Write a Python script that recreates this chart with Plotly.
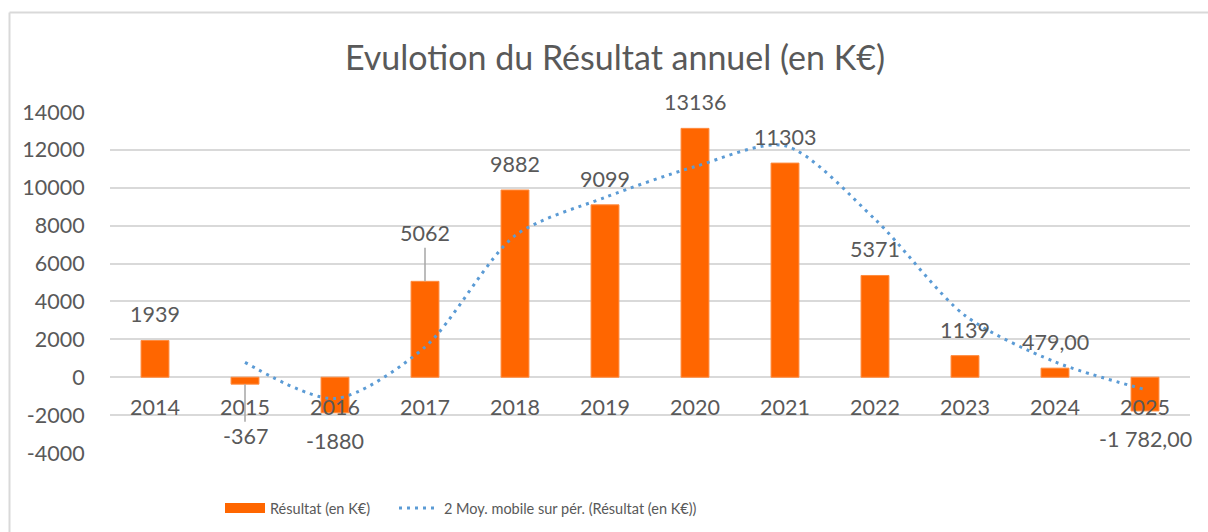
import plotly.graph_objects as go

years = ["2014", "2015", "2016", "2017", "2018", "2019", "2020", "2021", "2022", "2023", "2024", "2025"]
resultat = [1939, -367, -1880, 5062, 9882, 9099, 13136, 11303, 5371, 1139, 479, -1782]
labels = ["1939", "-367", "-1880", "5062", "9882", "9099", "13136", "11303", "5371", "1139", "479,00", "-1 782,00"]
mm_years = years[1:]
moy_mobile = [786, -1123.5, 1591, 7472, 9490.5, 11117.5, 12219.5, 8337, 3255, 809, -651.5]
y_ticks = [-4000, -2000, 0, 2000, 4000, 6000, 8000, 10000, 12000, 14000]

FONT = "Lato"
TXT = "#595959"
ORANGE = "#FF6600"
BLUE = "#5B9BD5"
GRID = "#D9D9D9"
FS = 21.5

L, R, T, B = 110, 18, 112, 79
W, H = 1208, 532
PH = H - T - B
PW = W - L - R

fig = go.Figure()
fig.add_trace(go.Bar(x=years, y=resultat, width=0.31, marker=dict(color=ORANGE, line=dict(color="#FF8C40", width=1)),
                     showlegend=False, name="Résultat (en K€)"))
# legend proxy for wide rectangle
fig.add_trace(go.Scatter(x=[None], y=[None], mode="lines", line=dict(color=ORANGE, width=11),
                         name="Résultat (en K€)", legend="legend"))
fig.add_trace(go.Scatter(x=mm_years, y=moy_mobile, mode="lines",
                         line=dict(color=BLUE, width=3, dash="3px,5px", shape="spline", smoothing=0.8),
                         name="2 Moy. mobile sur pér. (Résultat (en K€))", legend="legend2"))

leader = {"2015": 52, "2017": -48}
for i, (yr, v, t) in enumerate(zip(years, resultat, labels)):
    if yr in leader:
        fig.add_annotation(x=i, y=v, text=t, showarrow=True, arrowhead=0, arrowwidth=1.5, arrowcolor="#A6A6A6",
                           ax=0, ay=leader[yr], font=dict(family=FONT, size=FS, color=TXT), standoff=0)
    else:
        fig.add_annotation(x=i, y=v, text=t, showarrow=False, yshift=26 if v >= 0 else -28,
                           font=dict(family=FONT, size=FS, color=TXT))

# chart frame (left & top edges)
fx = (9.5 - L) / PW
fy = (H - B - 12.5) / PH
fig.add_shape(type="line", xref="paper", yref="paper", x0=fx, x1=(W + 5 - L) / PW, y0=fy, y1=fy,
              line=dict(color="#D9D9D9", width=2))
fig.add_shape(type="line", xref="paper", yref="paper", x0=fx, x1=fx, y0=-(B + 5) / PH, y1=fy,
              line=dict(color="#D9D9D9", width=2))

leg_y = -(508 - (H - B)) / PH
fig.update_layout(
    width=W, height=H,
    margin=dict(l=L, r=R, t=T, b=B, autoexpand=False),
    paper_bgcolor="white", plot_bgcolor="white",
    font=dict(family=FONT, color=TXT, size=FS),
    title=dict(text="Evulotion du Résultat annuel (en K€)", x=615 / W, xanchor="center",
               y=1 - 58 / H, yanchor="middle", font=dict(family=FONT, size=34, color=TXT)),
    legend=dict(orientation="h", x=(220 - L) / PW, xanchor="left", y=leg_y, yanchor="middle",
                font=dict(family=FONT, size=14.5, color=TXT), itemwidth=40, bgcolor="rgba(0,0,0,0)"),
    legend2=dict(orientation="h", x=(394 - L) / PW, xanchor="left", y=leg_y, yanchor="middle",
                 font=dict(family=FONT, size=14.5, color=TXT), itemwidth=40, bgcolor="rgba(0,0,0,0)"),
    bargap=0.5,
)
fig.update_yaxes(range=[-4000, 14000], tickvals=y_ticks, ticktext=[str(v) for v in y_ticks],
                 showgrid=True, gridcolor=GRID, gridwidth=1.5, zeroline=False, showline=False,
                 ticks="outside", ticklen=20, tickcolor="rgba(0,0,0,0)",
                 automargin=False, tickfont=dict(family=FONT, size=FS, color=TXT))
fig.update_xaxes(type="category", categoryorder="array", categoryarray=years, range=[-0.5, len(years) - 0.5],
                 anchor="free", position=4000 / 18000, showgrid=False, zeroline=False, showline=False, ticks="",
                 ticklabelstandoff=15, automargin=False, tickfont=dict(family=FONT, size=FS, color=TXT))

fig.write_html("out.html", config={"displayModeBar": False},
               post_script="document.body.style.margin='0px';document.body.style.padding='0px';")
